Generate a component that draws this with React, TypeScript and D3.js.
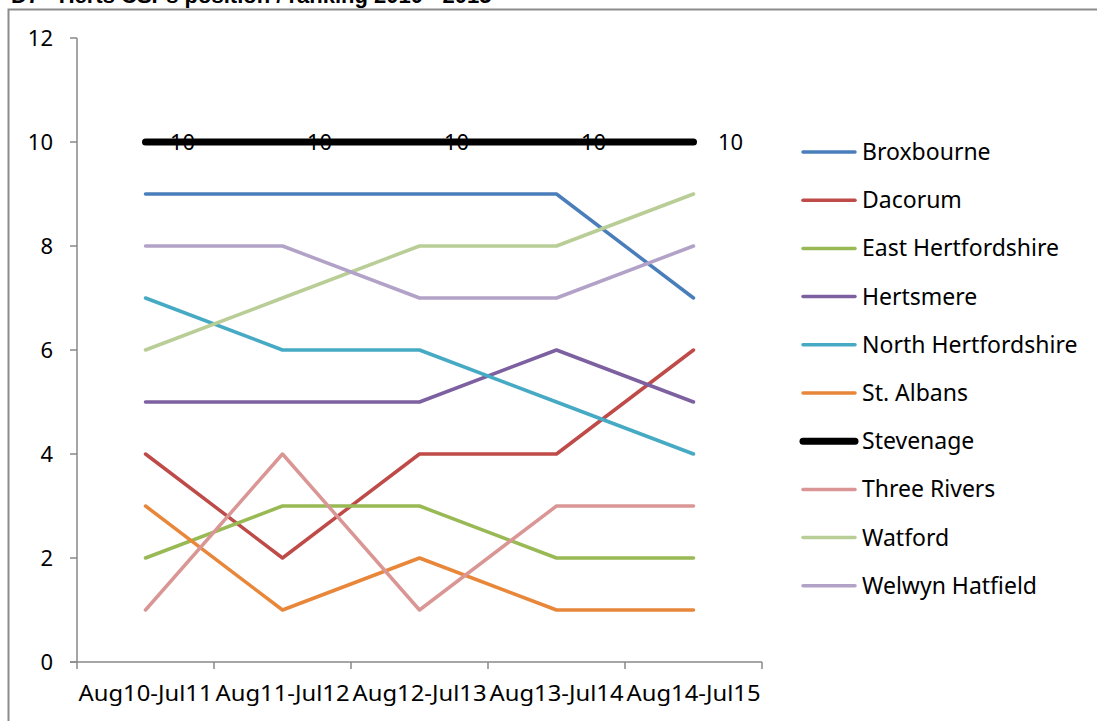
import React from "react";
import * as d3 from "d3";

const categories = ["Aug10-Jul11", "Aug11-Jul12", "Aug12-Jul13", "Aug13-Jul14", "Aug14-Jul15"];
const seriesNames = ["Broxbourne", "Dacorum", "East Hertfordshire", "Hertsmere", "North Hertfordshire", "St. Albans", "Stevenage", "Three Rivers", "Watford", "Welwyn Hatfield"];
const broxbourne = [9, 9, 9, 9, 7];
const dacorum = [4, 2, 4, 4, 6];
const eastHerts = [2, 3, 3, 2, 2];
const hertsmere = [5, 5, 5, 6, 5];
const northHerts = [7, 6, 6, 5, 4];
const stAlbans = [3, 1, 2, 1, 1];
const stevenage = [10, 10, 10, 10, 10];
const threeRivers = [1, 4, 1, 3, 3];
const watford = [6, 7, 8, 8, 9];
const welwyn = [8, 8, 7, 7, 8];
const seriesValues = [broxbourne, dacorum, eastHerts, hertsmere, northHerts, stAlbans, stevenage, threeRivers, watford, welwyn];
const colors = ["#4A7EBB", "#BE4B48", "#98B954", "#7D60A0", "#46AAC5", "#E8863A", "#000000", "#D99694", "#B9CD96", "#B3A2C7"];
const yTicks = [0, 2, 4, 6, 8, 10, 12];
const title = "D7 - Herts CSPs position / ranking 2010 - 2015";

const W = 1097, H = 721;
const FONT = "'Noto Sans', sans-serif";

export default function App() {
  const x0 = 77, x1 = 762;
  const x = d3.scaleBand().domain(categories).range([x0, x1]);
  const y = d3.scaleLinear().domain([0, 12]).range([662, 38]);
  const cx = (c: string) => (x(c) as number) + x.bandwidth() / 2;
  const line = d3.line<number>().x((_, i) => cx(categories[i])).y((d) => y(d));
  const ticksX = categories.map((c) => x(c) as number).concat([x1]);

  return (
    <svg width={W} height={H} style={{ position: "absolute", left: 0, top: 0 }} fontFamily={FONT}>
      <rect x={0} y={0} width={W} height={H} fill="#fff" />
      <text x={11} y={3} fontFamily="'Liberation Sans', Arial, sans-serif" fontWeight="bold" fontSize={22} fill="#000">{title}</text>
      <rect x={8.5} y={9.5} width={1100} height={720} fill="#fff" stroke="#8c8c8c" strokeWidth={2} />
      {/* y axis */}
      <line x1={x0} x2={x0} y1={y(12)} y2={y(0)} stroke="#888" strokeWidth={1.5} />
      {yTicks.map((t) => (
        <g key={t}>
          <line x1={x0 - 7} x2={x0} y1={y(t)} y2={y(t)} stroke="#888" strokeWidth={1.5} />
          <text x={53} y={y(t)} dy="0.35em" textAnchor="end" fontSize={22} fill="#000">{t}</text>
        </g>
      ))}
      {/* x axis */}
      <line x1={x0 - 7} x2={x1} y1={y(0)} y2={y(0)} stroke="#888" strokeWidth={1.5} />
      {ticksX.map((t, i) => (
        <line key={i} x1={t} x2={t} y1={y(0)} y2={y(0) + 7} stroke="#888" strokeWidth={1.5} />
      ))}
      {categories.map((c) => (
        <text key={c} x={cx(c)} y={701} textAnchor="middle" fontSize={22} textLength={134} lengthAdjust="spacingAndGlyphs" fill="#000">{c}</text>
      ))}
      {/* series */}
      {seriesValues.map((vals, i) => (
        <path key={seriesNames[i]} d={line(vals) as string} fill="none" stroke={colors[i]}
          strokeWidth={seriesNames[i] === "Stevenage" ? 7 : 3.5} strokeLinecap="round" strokeLinejoin="round" />
      ))}
      {stevenage.map((v, i) => (
        <text key={i} x={cx(categories[i]) + 37} y={y(v)} dy="0.35em" textAnchor="middle" fontSize={22} fill="#000">{v}</text>
      ))}
      {/* legend */}
      {seriesNames.map((n, i) => {
        const ly = 152 + i * 48.2;
        return (
          <g key={n}>
            <line x1={803} x2={855} y1={ly} y2={ly} stroke={colors[i]} strokeWidth={n === "Stevenage" ? 7 : 3.5} strokeLinecap="round" />
            <text x={862} y={ly} dy="0.35em" fontSize={23} fill="#000">{n}</text>
          </g>
        );
      })}
    </svg>
  );
}
